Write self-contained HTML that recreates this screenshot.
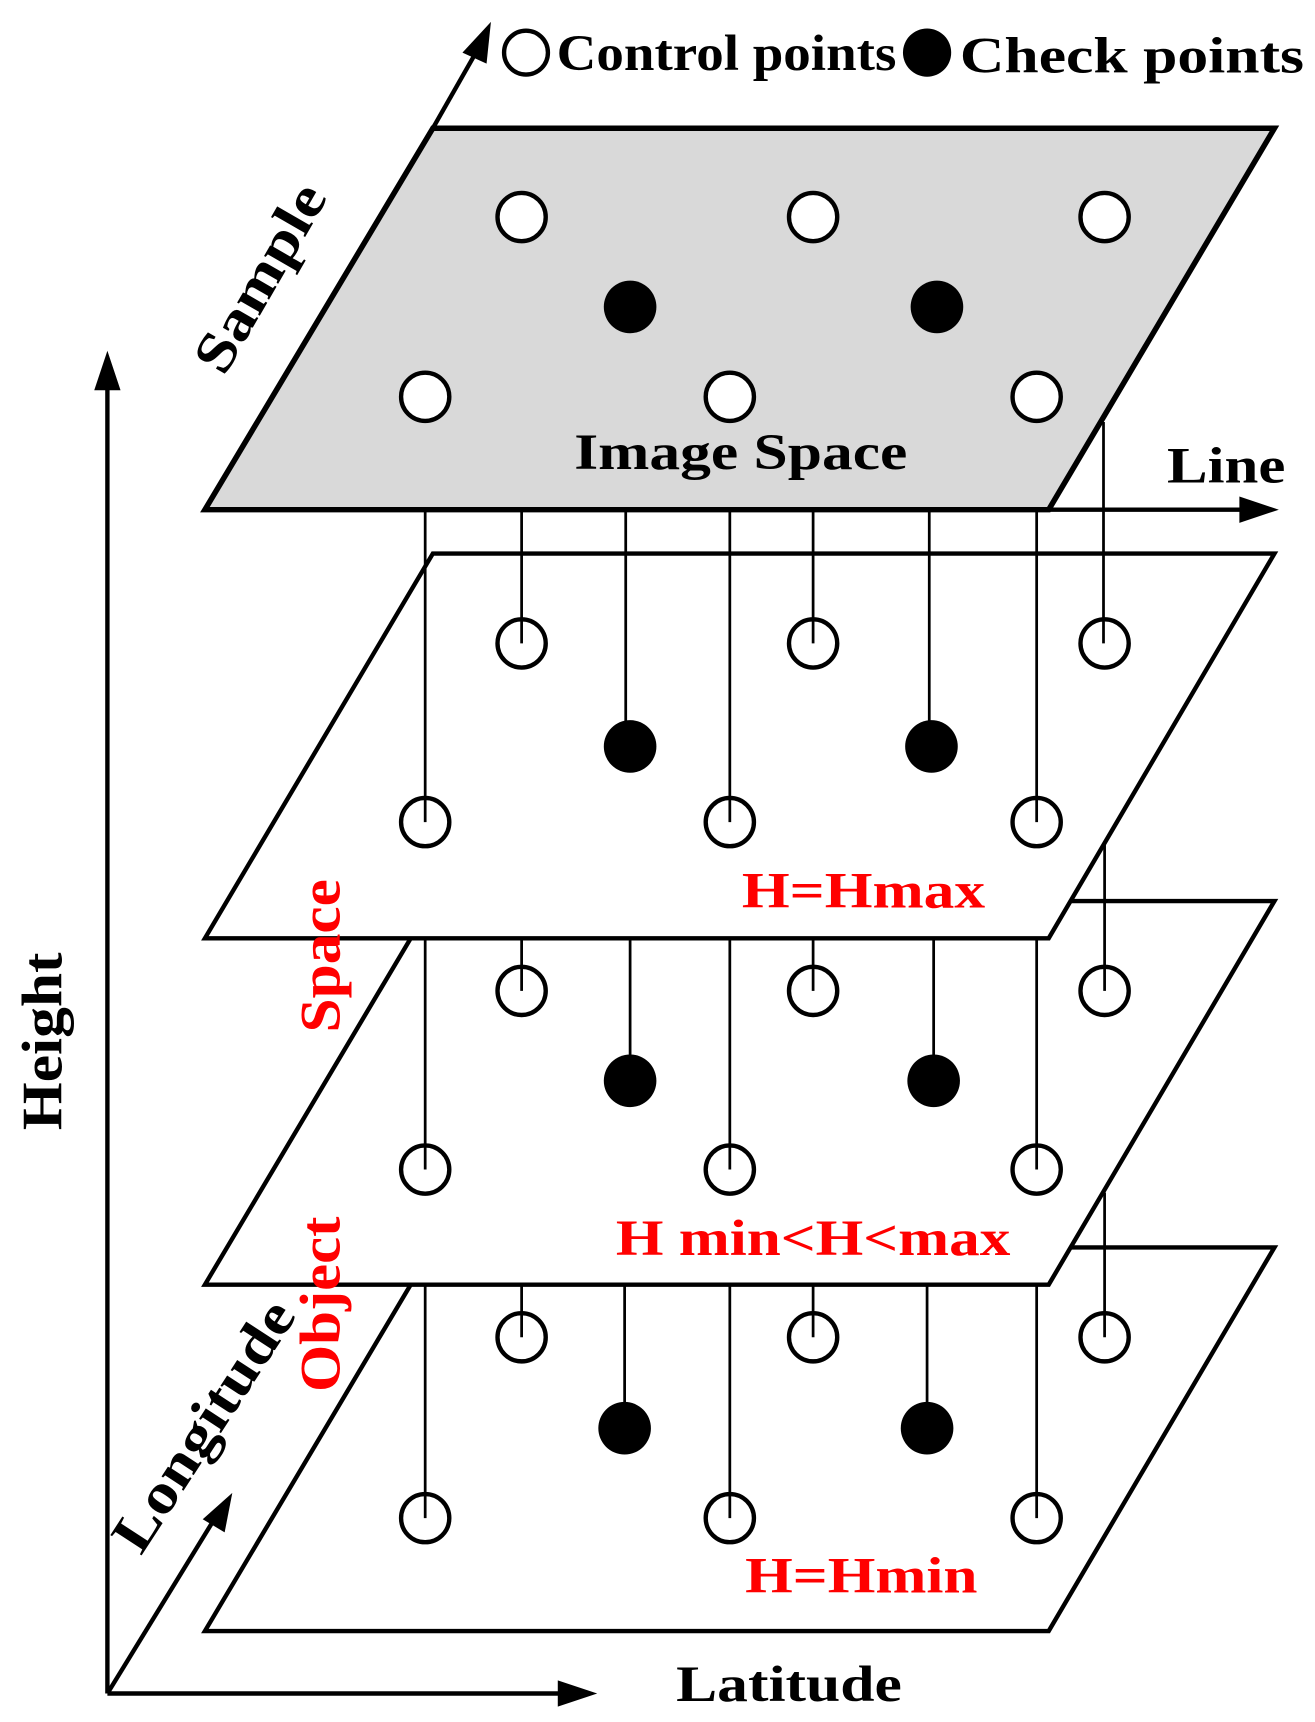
<!DOCTYPE html>
<html><head><meta charset="utf-8"><style>
html,body{margin:0;padding:0;background:#fff;}
svg{display:block;}
text{font-family:"Liberation Serif",serif;font-weight:bold;}
</style></head><body>
<svg width="1315" height="1722" viewBox="0 0 1200 1571" preserveAspectRatio="none" xmlns="http://www.w3.org/2000/svg">
<g stroke="#000" stroke-width="4" fill="none">
<line x1="98" y1="1545" x2="98" y2="345"/>
<line x1="98" y1="1545" x2="515" y2="1545"/>
<line x1="98" y1="1545" x2="198" y2="1382"/>
<line x1="395" y1="117" x2="436" y2="45"/>
<line x1="957" y1="465" x2="1140" y2="465"/>
</g>
<g fill="#000">
<polygon points="98,320 86,356 110,356"/>
<polygon points="545,1545 509,1533 509,1557"/>
<polygon points="212,1362 185,1386 205,1398"/>
<polygon points="448,20 422,48 444,58"/>
<polygon points="1167,465 1131,453 1131,477"/>
</g>
<polygon points="395,1138 1163,1138 957,1488 187,1488" fill="#fff" stroke="#000" stroke-width="4"/>
<polygon points="395,822 1163,822 957,1172 187,1172" fill="#fff" stroke="#000" stroke-width="4"/>
<polygon points="395,505 1163,505 957,856 187,856" fill="#fff" stroke="#000" stroke-width="4"/>
<polygon points="395,117 1163,117 957,465 187,465" fill="#d9d9d9" stroke="#000" stroke-width="5"/>
<g stroke="#000" stroke-width="2.5">
<line x1="388" y1="465" x2="388" y2="750"/><line x1="476" y1="465" x2="476" y2="587"/>
<line x1="571" y1="465" x2="571" y2="681"/><line x1="666" y1="465" x2="666" y2="750"/>
<line x1="742" y1="465" x2="742" y2="587"/><line x1="848" y1="465" x2="848" y2="681"/>
<line x1="946" y1="465" x2="946" y2="750"/><line x1="1007" y1="385" x2="1007" y2="587"/>
<line x1="388" y1="856" x2="388" y2="1067"/><line x1="476" y1="856" x2="476" y2="904"/>
<line x1="575" y1="856" x2="575" y2="986"/><line x1="666" y1="856" x2="666" y2="1067"/>
<line x1="742" y1="856" x2="742" y2="904"/><line x1="852" y1="856" x2="852" y2="986"/>
<line x1="946" y1="856" x2="946" y2="1067"/><line x1="1008" y1="770" x2="1008" y2="904"/>
<line x1="388" y1="1172" x2="388" y2="1385"/><line x1="476" y1="1172" x2="476" y2="1220"/>
<line x1="570" y1="1172" x2="570" y2="1303"/><line x1="666" y1="1172" x2="666" y2="1385"/>
<line x1="742" y1="1172" x2="742" y2="1220"/><line x1="846" y1="1172" x2="846" y2="1303"/>
<line x1="946" y1="1172" x2="946" y2="1385"/><line x1="1008" y1="1088" x2="1008" y2="1220"/>
</g>
<g stroke="#000" stroke-width="4" fill="none">
<circle cx="476" cy="198" r="22" fill="#fff"/><circle cx="742" cy="198" r="22" fill="#fff"/><circle cx="1008" cy="198" r="22" fill="#fff"/>
<circle cx="388" cy="362" r="22" fill="#fff"/><circle cx="666" cy="362" r="22" fill="#fff"/><circle cx="946" cy="362" r="22" fill="#fff"/>
<circle cx="476" cy="587" r="22"/><circle cx="742" cy="587" r="22"/><circle cx="1008" cy="587" r="22"/>
<circle cx="388" cy="750" r="22"/><circle cx="666" cy="750" r="22"/><circle cx="946" cy="750" r="22"/>
<circle cx="476" cy="904" r="22"/><circle cx="742" cy="904" r="22"/><circle cx="1008" cy="904" r="22"/>
<circle cx="388" cy="1067" r="22"/><circle cx="666" cy="1067" r="22"/><circle cx="946" cy="1067" r="22"/>
<circle cx="476" cy="1220" r="22"/><circle cx="742" cy="1220" r="22"/><circle cx="1008" cy="1220" r="22"/>
<circle cx="388" cy="1385" r="22"/><circle cx="666" cy="1385" r="22"/><circle cx="946" cy="1385" r="22"/>
<circle cx="480" cy="48" r="20" fill="#fff"/>
</g>
<g fill="#000">
<circle cx="575" cy="280" r="24"/><circle cx="855" cy="280" r="24"/>
<circle cx="575" cy="681" r="24"/><circle cx="850" cy="681" r="24"/>
<circle cx="575" cy="986" r="24"/><circle cx="852" cy="986" r="24"/>
<circle cx="570" cy="1303" r="24"/><circle cx="846" cy="1303" r="24"/>
<circle cx="846" cy="48" r="22"/>
</g>
<g font-size="46" fill="#000">
<text x="508" y="64" textLength="310" lengthAdjust="spacingAndGlyphs">Control points</text>
<text x="876" y="66" textLength="314" lengthAdjust="spacingAndGlyphs">Check points</text>
<text x="524" y="428" textLength="304" lengthAdjust="spacingAndGlyphs">Image Space</text>
<text x="1065" y="440" textLength="108" lengthAdjust="spacingAndGlyphs">Line</text>
<text x="617" y="1552" textLength="206" lengthAdjust="spacingAndGlyphs">Latitude</text>
<text transform="translate(252,262) rotate(-60)" text-anchor="middle" font-size="52" textLength="190" lengthAdjust="spacingAndGlyphs">Sample</text>
<text transform="translate(56,950) rotate(-90)" text-anchor="middle" font-size="52" textLength="162" lengthAdjust="spacingAndGlyphs">Height</text>
<text transform="translate(200,1310) rotate(-57)" text-anchor="middle" font-size="52" textLength="262" lengthAdjust="spacingAndGlyphs">Longitude</text>
</g>
<g font-size="46" fill="#f00">
<text x="677" y="828" textLength="222" lengthAdjust="spacingAndGlyphs">H=Hmax</text>
<text x="562" y="1145" textLength="360" lengthAdjust="spacingAndGlyphs">H min&lt;H&lt;max</text>
<text x="680" y="1453" textLength="212" lengthAdjust="spacingAndGlyphs">H=Hmin</text>
<text transform="translate(310,872) rotate(-90)" text-anchor="middle" font-size="52" textLength="140" lengthAdjust="spacingAndGlyphs">Space</text>
<text transform="translate(310,1190) rotate(-90)" text-anchor="middle" font-size="52" textLength="160" lengthAdjust="spacingAndGlyphs">Object</text>
</g>
</svg>
</body></html>
